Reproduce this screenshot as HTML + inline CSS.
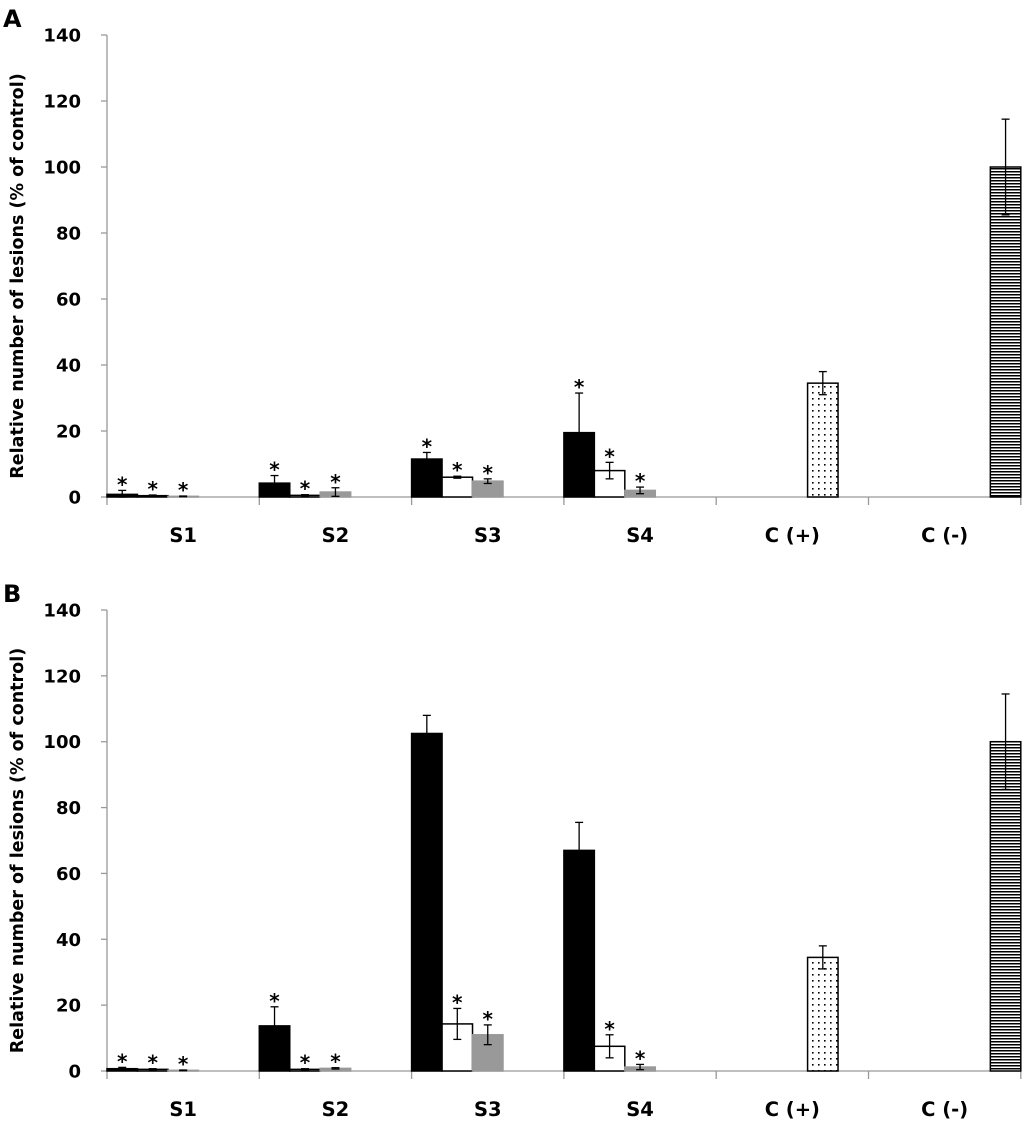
<!DOCTYPE html>
<html><head><meta charset="utf-8"><style>
body{margin:0;background:#fff}
svg text{font-family:"DejaVu Sans","Liberation Sans",sans-serif;font-weight:bold;fill:#000}
</style></head><body>
<svg id="s" width="1024" height="1121" xmlns="http://www.w3.org/2000/svg">
<defs>
<pattern id="dots" width="6" height="6" patternUnits="userSpaceOnUse"><rect width="6" height="6" fill="#fff"/><rect x="2" y="2" width="1.6" height="1.6" fill="#000"/></pattern>
<pattern id="hstripe" width="4" height="3" patternUnits="userSpaceOnUse"><rect width="4" height="3" fill="#fff"/><rect y="0" width="4" height="1.5" fill="#000"/></pattern>
</defs>
</svg>
<script>
const categories=["S1","S2","S3","S4","C (+)","C (-)"];
const yTicks=[0,20,40,60,80,100,120,140];
const panelA_black=[0.8,4.2,11.5,19.5];
const panelA_blackErr=[1.2,2.3,2.0,12.0];
const panelA_white=[0.4,0.5,6.0,8.0];
const panelA_whiteErr=[0.2,0.2,0.3,2.5];
const panelA_gray=[0.2,1.5,4.8,2.0];
const panelA_grayErr=[0.1,1.3,0.7,1.0];
const panelB_black=[0.7,13.7,102.5,67];
const panelB_blackErr=[0.4,5.8,5.5,8.5];
const panelB_white=[0.5,0.5,14.3,7.5];
const panelB_whiteErr=[0.2,0.2,4.7,3.5];
const panelB_gray=[0.2,0.8,11,1.2];
const panelB_grayErr=[0.1,0.2,3.0,0.8];
const posCtrl=[34.5], posCtrlErr=[3.5];
const negCtrl=[100], negCtrlErr=[14.5];
const NS="http://www.w3.org/2000/svg";
const svg=document.getElementById('s');
function el(t,a,p){const e=document.createElementNS(NS,t);for(const k in a)e.setAttribute(k,a[k]);(p||svg).appendChild(e);return e;}
const x0=107,catW=152.3,barW=catW*0.2;
function panel(letter,y0,y140,blk,blkE,wht,whtE,gry,gryE){
  const g=el('g',{});
  
  
  const sy=v=>y0-(v/140)*(y0-y140);
  const t=el('text',{x:3,y:y140-8,'font-size':24},g);t.textContent=letter;
  
  el('line',{x1:x0,y1:y140,x2:x0,y2:y0,stroke:'#999','stroke-width':1.3},g);
  yTicks.forEach(v=>{
    el('line',{x1:x0-6,y1:sy(v),x2:x0,y2:sy(v),stroke:'#999','stroke-width':1.3},g);
    const tt=el('text',{x:81,y:sy(v)+6.5,'font-size':18,'text-anchor':'end'},g);tt.textContent=v;
    
  });
  const yc=(y0+y140)/2+10;
  const yl=el('text',{x:0,y:0,'font-size':17.5,'text-anchor':'middle',transform:`translate(23,${yc}) rotate(-90)`},g);
  yl.textContent='Relative number of lesions (% of control)';
  
  el('line',{x1:x0,y1:y0,x2:x0+catW*6,y2:y0,stroke:'#999','stroke-width':1.3},g);
  categories.forEach((c,i)=>{
    el('line',{x1:x0+catW*i,y1:y0,x2:x0+catW*i,y2:y0+8,stroke:'#999','stroke-width':1.3},g);
    const ct=el('text',{x:x0+catW*(i+0.5),y:y0+45,'font-size':19.5,'text-anchor':'middle'},g);ct.textContent=c;
    
  });
  el('line',{x1:x0+catW*6,y1:y0,x2:x0+catW*6,y2:y0+8,stroke:'#999','stroke-width':1.3},g);
  function bar(i,slot,v,e,fill,stroke,star,name){
    const x=x0+catW*i+barW*slot;
    const r=el('rect',{x:x,y:sy(v),width:barW,height:y0-sy(v),fill:fill,stroke:stroke,'stroke-width':1.5},g);
    
    const cx=x+barW/2;
    el('line',{x1:cx,y1:sy(v+e),x2:cx,y2:sy(Math.max(0,v-e)),stroke:'#000','stroke-width':1.3},g);
    el('line',{x1:cx-4,y1:sy(v+e),x2:cx+4,y2:sy(v+e),stroke:'#000','stroke-width':1.3},g);
    el('line',{x1:cx-4,y1:sy(Math.max(0,v-e)),x2:cx+4,y2:sy(Math.max(0,v-e)),stroke:'#000','stroke-width':1.3},g);
    if(star){const s=el('text',{x:cx,y:sy(v+e)+1,'font-size':20,'text-anchor':'middle'},g);s.textContent='*';
      }
  }
  for(let i=0;i<4;i++){
    const sb=!(letter==='B'&&(i===2||i===3));
    bar(i,0,blk[i],blkE[i],'#000','#000',sb,'bar-black-'+categories[i]);
    bar(i,1,wht[i],whtE[i],'#fff','#000',true,'bar-white-'+categories[i]);
    bar(i,2,gry[i],gryE[i],'#999','#999',true,'bar-gray-'+categories[i]);
  }
  bar(4,3,posCtrl[0],posCtrlErr[0],'url(#dots)','#000',false,'bar-positive-control');
  bar(5,4,negCtrl[0],negCtrlErr[0],'url(#hstripe)','#000',false,'bar-negative-control');
}
panel('A',497,35,panelA_black,panelA_blackErr,panelA_white,panelA_whiteErr,panelA_gray,panelA_grayErr);
panel('B',1071,610,panelB_black,panelB_blackErr,panelB_white,panelB_whiteErr,panelB_gray,panelB_grayErr);
</script>
</body></html>
